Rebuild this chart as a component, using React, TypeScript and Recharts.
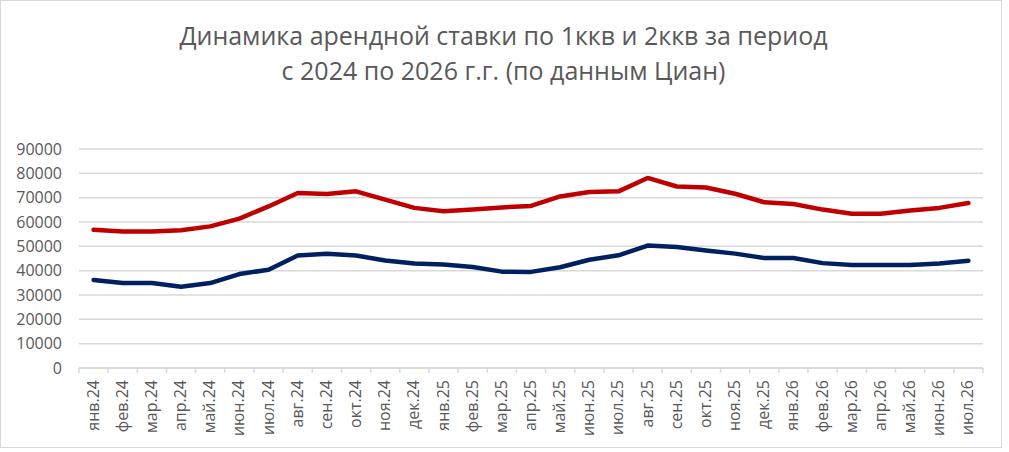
import React from 'react';
import { LineChart, Line, XAxis, YAxis, CartesianGrid } from 'recharts';

const months = [
  'янв.24', 'фев.24', 'мар.24', 'апр.24', 'май.24', 'июн.24', 'июл.24', 'авг.24', 'сен.24', 'окт.24', 'ноя.24', 'дек.24',
  'янв.25', 'фев.25', 'мар.25', 'апр.25', 'май.25', 'июн.25', 'июл.25', 'авг.25', 'сен.25', 'окт.25', 'ноя.25', 'дек.25',
  'янв.26', 'фев.26', 'мар.26', 'апр.26', 'май.26', 'июн.26', 'июл.26',
];

const oneRoom = [
  36200, 34900, 34900, 33400, 34900, 38600, 40400, 46200, 47000, 46200, 44200, 42900,
  42500, 41500, 39600, 39500, 41400, 44500, 46300, 50300, 49700, 48300, 47000, 45200,
  45200, 43100, 42300, 42300, 42300, 42900, 44100,
];

const twoRoom = [
  56800, 56100, 56100, 56600, 58200, 61400, 66400, 71900, 71500, 72600, 69200, 65800,
  64400, 65100, 66000, 66600, 70500, 72300, 72600, 78100, 74600, 74200, 71600, 68100,
  67400, 65100, 63400, 63400, 64700, 65800, 67800,
];

const yTicks = [0, 10000, 20000, 30000, 40000, 50000, 60000, 70000, 80000, 90000];

const titleLines = [
  'Динамика арендной ставки по 1ккв и 2ккв за период',
  'с 2024 по 2026 г.г. (по данным Циан)',
];

const data = months.map((m, i) => ({ m, r1: oneRoom[i], r2: twoRoom[i] }));

const FONT = '"Open Sans", "Liberation Sans", sans-serif';
const TEXT = '#595959';
const GRID = '#d9d9d9';

const MonthTick = (props: any) => {
  const { x, y, payload, index } = props;
  const half = payload && payload.offset ? payload.offset : 14.6;
  const isLast = index === months.length - 1;
  return (
    <g>
      <line x1={x - half} y1={y} x2={x - half} y2={y + 5} stroke={GRID} strokeWidth={1.5} />
      {isLast && <line x1={x + half} y1={y} x2={x + half} y2={y + 5} stroke={GRID} strokeWidth={1.5} />}
      <text
        x={x + 5}
        y={y + 12}
        transform={`rotate(-90 ${x + 5} ${y + 12})`}
        textAnchor="end"
        fill={TEXT}
        fontSize={16}
        fontFamily={FONT}
      >
        {payload.value}
      </text>
    </g>
  );
};

export default function App() {
  return (
    <div style={{ position: 'relative', width: 1009, height: 452, background: '#fff', fontFamily: FONT }}>
      <style>{'body{margin:0;}'}</style>
      <div
        style={{
          position: 'absolute',
          left: 0,
          top: 0,
          width: 1002,
          height: 448,
          border: `1.5px solid ${GRID}`,
          boxSizing: 'border-box',
          pointerEvents: 'none',
        }}
      />
      {titleLines.map((t, i) => (
        <div
          key={i}
          style={{
            position: 'absolute',
            left: 0,
            width: 1007,
            top: 23 + i * 35,
            textAlign: 'center',
            fontSize: 25,
            lineHeight: '25px',
            color: TEXT,
            fontFamily: FONT,
            whiteSpace: 'nowrap',
          }}
        >
          {t}
        </div>
      ))}
      <div style={{ position: 'absolute', left: 0, top: 0 }}>
        <LineChart width={1009} height={452} data={data} margin={{ top: 149, right: 26, left: 0, bottom: 0 }}>
          <CartesianGrid vertical={false} stroke={GRID} strokeWidth={1.5} />
          <XAxis
            dataKey="m"
            scale="band"
            interval={0}
            height={84}
            tickLine={false}
            tickSize={0}
            tickMargin={0}
            axisLine={{ stroke: GRID, strokeWidth: 1.5 }}
            tick={<MonthTick />}
          />
          <YAxis
            domain={[0, 90000]}
            ticks={yTicks}
            width={79}
            axisLine={false}
            tickLine={false}
            tickSize={0}
            tickMargin={17}
            tick={{ fontSize: 16, fill: TEXT, fontFamily: FONT }}
          />
          <Line
            type="linear"
            dataKey="r2"
            stroke="#c00000"
            strokeWidth={4.5}
            dot={false}
            strokeLinejoin="round"
            strokeLinecap="round"
            isAnimationActive={false}
          />
          <Line
            type="linear"
            dataKey="r1"
            stroke="#002060"
            strokeWidth={4.5}
            dot={false}
            strokeLinejoin="round"
            strokeLinecap="round"
            isAnimationActive={false}
          />
        </LineChart>
      </div>
    </div>
  );
}
